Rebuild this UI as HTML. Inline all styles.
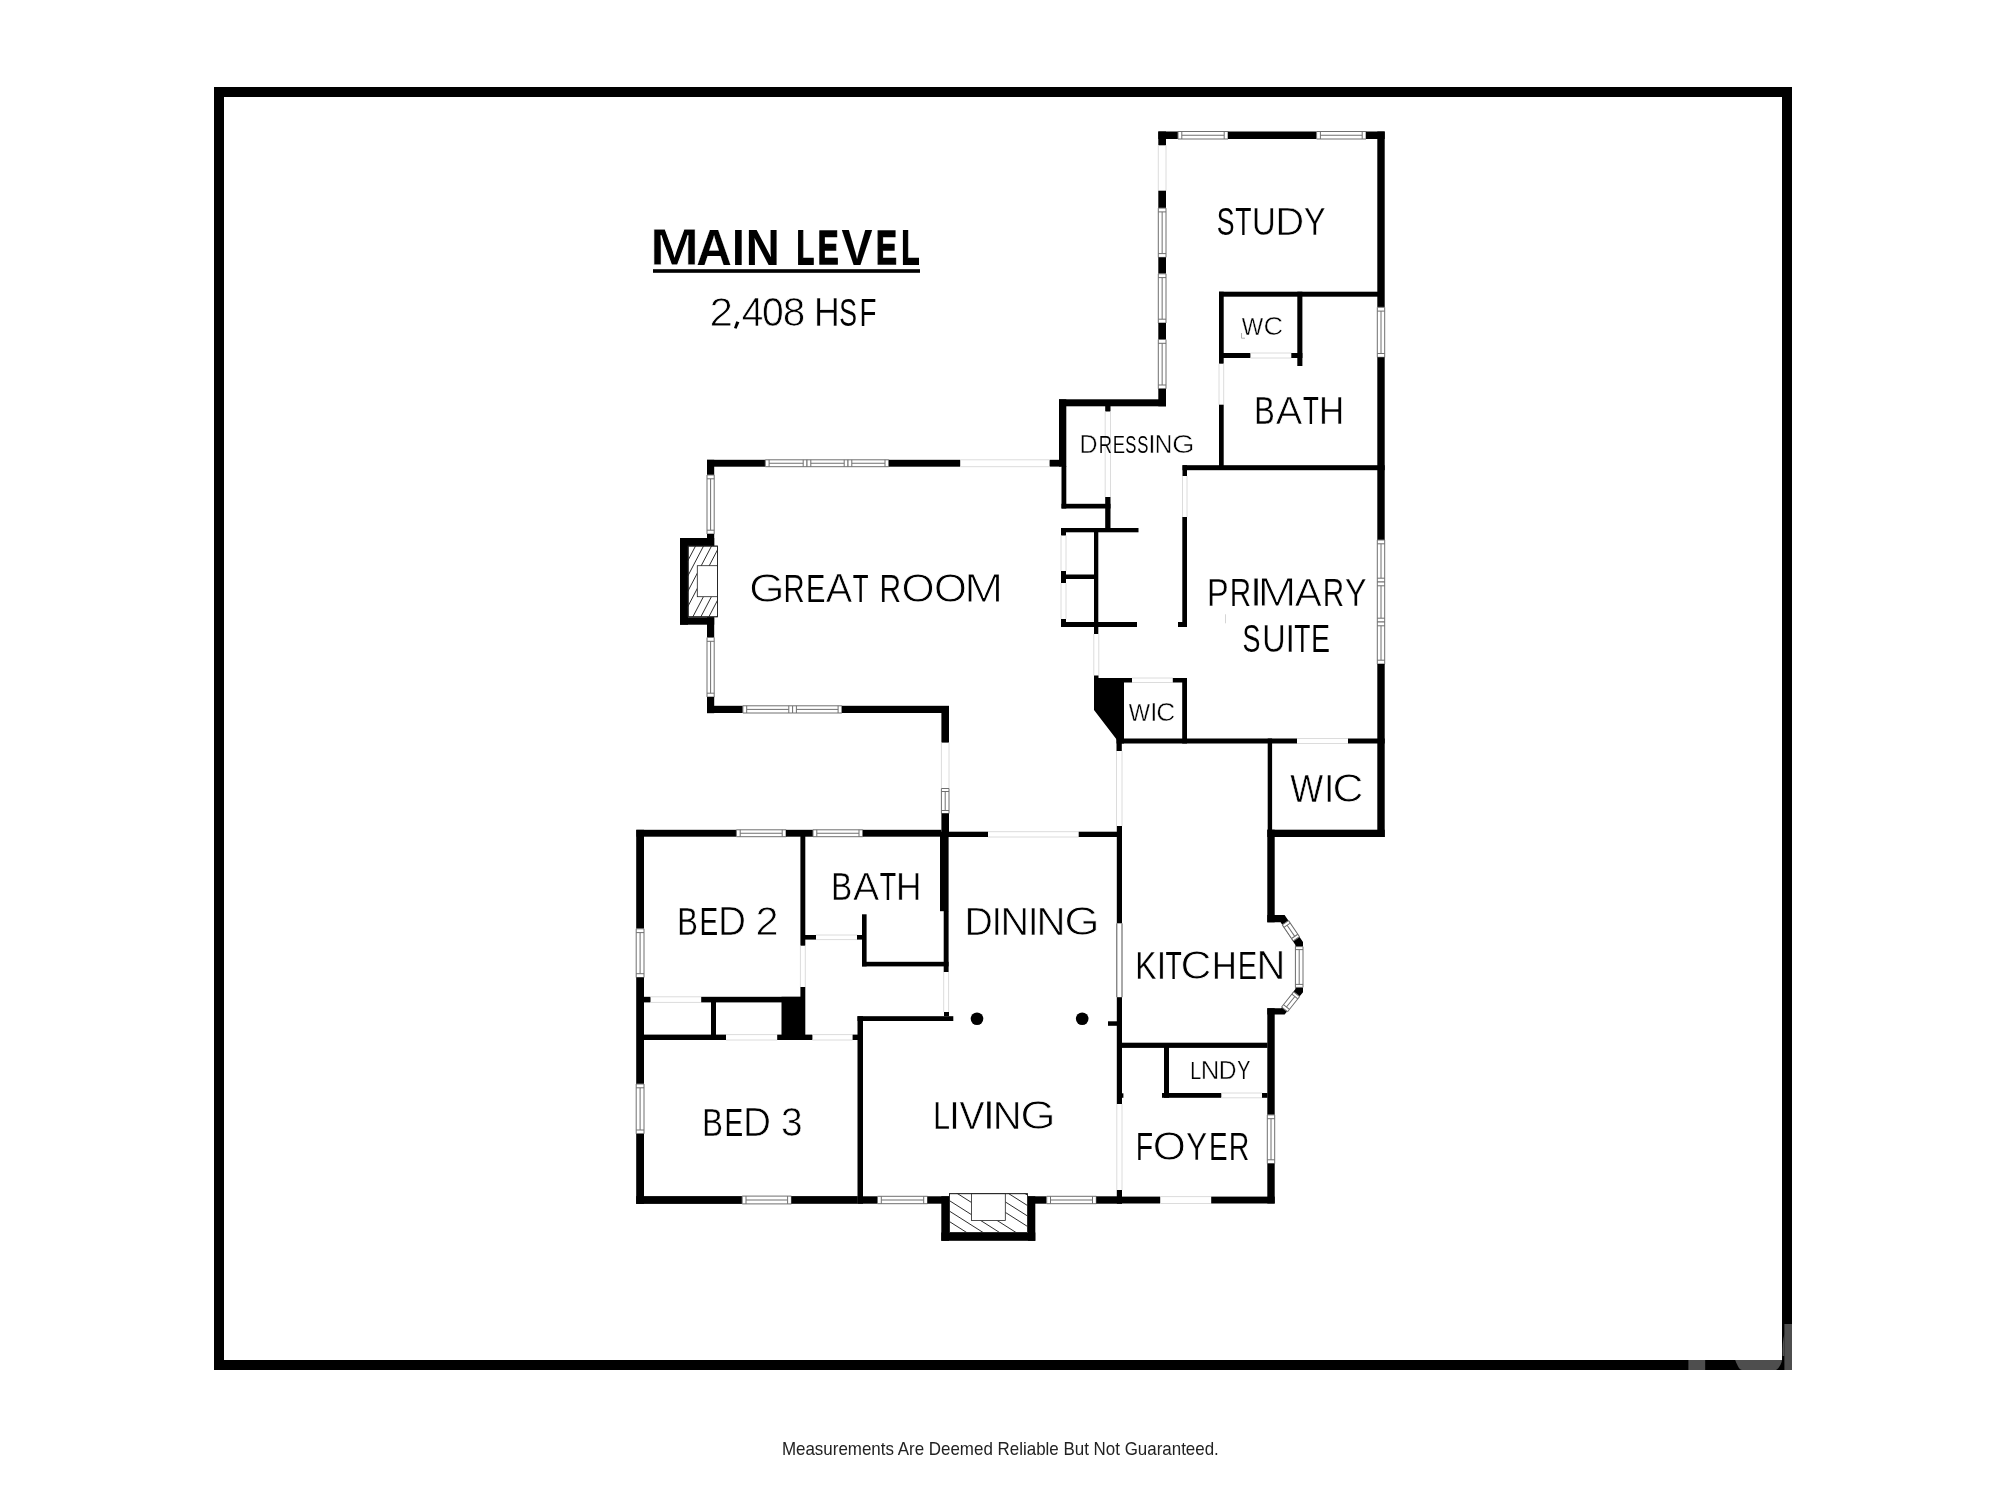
<!DOCTYPE html>
<html><head><meta charset="utf-8"><title>Main Level Floor Plan</title>
<style>
html,body{margin:0;padding:0;background:#fff;}
body{width:2000px;height:1500px;overflow:hidden;}
svg{display:block;will-change:transform;}
text{font-family:"Liberation Sans",sans-serif;}
</style></head>
<body>
<svg width="2000" height="1500" viewBox="0 0 2000 1500">
<rect x="0" y="0" width="2000" height="1500" fill="#fff"/>
<rect x="214.00" y="87.00" width="1578.00" height="10.00" fill="#000"/>
<rect x="214.00" y="1360.00" width="1578.00" height="10.00" fill="#000"/>
<rect x="214.00" y="87.00" width="10.00" height="1283.00" fill="#000"/>
<rect x="1782.00" y="87.00" width="10.00" height="1283.00" fill="#000"/>
<rect x="1688.40" y="1360.00" width="16.80" height="10.00" fill="#4e4e4e"/>
<path d="M1735.2,1360 C1737.5,1366 1739.5,1370 1742,1370 L1776,1370 C1779,1368 1781.5,1364 1782,1360 Z" fill="#4e4e4e"/>
<rect x="1784.40" y="1324.00" width="7.60" height="46.00" fill="#4e4e4e"/>
<path d="M1784.4,1334 C1782.8,1340 1782.2,1348 1782.6,1356 L1784.4,1356 Z" fill="#4e4e4e"/>
<path d="M1241.5,333 V338.2 H1245" stroke="#a8a8a8" stroke-width="0.9" fill="none"/>
<path d="M1225.5,614.3 V623.3" stroke="#d0d0d0" stroke-width="0.9" fill="none"/>
<text x="649.708" y="265.34" font-size="51.73" textLength="49.585" lengthAdjust="spacingAndGlyphs" font-weight="bold" fill="#000" stroke="#fff" stroke-width="0.887">M</text>
<text x="696.295" y="264.98" font-size="50.67" textLength="35.581" lengthAdjust="spacingAndGlyphs" font-weight="bold" fill="#000" stroke="#fff" stroke-width="0.160">A</text>
<text x="731.990" y="264.84" font-size="50.27" textLength="12.720" lengthAdjust="spacingAndGlyphs" font-weight="bold" fill="#000" stroke="#000" stroke-width="0.116" stroke-linejoin="miter">I</text>
<text x="745.856" y="264.89" font-size="50.42" textLength="34.012" lengthAdjust="spacingAndGlyphs" font-weight="bold" fill="#000" stroke="#000" stroke-width="0.013" stroke-linejoin="miter">N</text>
<text x="796.664" y="263.95" font-size="47.69" textLength="17.346" lengthAdjust="spacingAndGlyphs" font-weight="bold" fill="#000" stroke="#000" stroke-width="1.892" stroke-linejoin="miter">L</text>
<text x="817.718" y="264.12" font-size="48.17" textLength="20.796" lengthAdjust="spacingAndGlyphs" font-weight="bold" fill="#000" stroke="#000" stroke-width="1.557" stroke-linejoin="miter">E</text>
<text x="841.414" y="264.87" font-size="50.34" textLength="30.973" lengthAdjust="spacingAndGlyphs" font-weight="bold" fill="#000" stroke="#000" stroke-width="0.067" stroke-linejoin="miter">V</text>
<text x="876.101" y="264.13" font-size="48.21" textLength="20.925" lengthAdjust="spacingAndGlyphs" font-weight="bold" fill="#000" stroke="#000" stroke-width="1.535" stroke-linejoin="miter">E</text>
<text x="901.490" y="264.01" font-size="47.84" textLength="17.863" lengthAdjust="spacingAndGlyphs" font-weight="bold" fill="#000" stroke="#000" stroke-width="1.788" stroke-linejoin="miter">L</text>
<rect x="653.00" y="269.20" width="267.00" height="3.60" fill="#000"/>
<path d="M736.3,321.3 L739.4,322.3 L736.6,328.8 L734.0,328.1 Z" fill="#000"/>
<text x="709.458" y="326.30" font-size="40.11" textLength="23.485" lengthAdjust="spacingAndGlyphs" fill="#000" stroke="#fff" stroke-width="0.795">2</text>
<text x="741.791" y="326.23" font-size="39.91" textLength="21.564" lengthAdjust="spacingAndGlyphs" fill="#000" stroke="#fff" stroke-width="0.657">4</text>
<text x="762.050" y="326.23" font-size="39.92" textLength="21.701" lengthAdjust="spacingAndGlyphs" fill="#000" stroke="#fff" stroke-width="0.667">0</text>
<text x="782.625" y="326.26" font-size="40.01" textLength="22.500" lengthAdjust="spacingAndGlyphs" fill="#000" stroke="#fff" stroke-width="0.726">8</text>
<text x="814.080" y="326.16" font-size="39.72" textLength="25.823" lengthAdjust="spacingAndGlyphs" fill="#000" stroke="#fff" stroke-width="0.526">H</text>
<text x="839.276" y="325.93" font-size="39.03" textLength="17.711" lengthAdjust="spacingAndGlyphs" fill="#000" stroke="#fff" stroke-width="0.053">S</text>
<text x="859.425" y="325.96" font-size="39.14" textLength="16.983" lengthAdjust="spacingAndGlyphs" fill="#000" stroke="#fff" stroke-width="0.125">F</text>
<rect x="1158.30" y="131.50" width="19.70" height="7.50" fill="#000"/>
<rect x="1178.00" y="131.50" width="50.00" height="7.50" fill="#fff"/>
<g stroke="#707070" stroke-width="1.00" fill="none">
<path d="M1178.00 131.50H1228.00M1178.00 139.00H1228.00"/>
<path d="M1181.80 135.25H1224.20"/>
<path d="M1181.80 131.50V139.00M1224.20 131.50V139.00"/>
<path d="M1178.00 131.50V139.00M1228.00 131.50V139.00"/>
</g>
<rect x="1228.00" y="131.50" width="88.60" height="7.50" fill="#000"/>
<rect x="1316.60" y="131.50" width="49.40" height="7.50" fill="#fff"/>
<g stroke="#707070" stroke-width="1.00" fill="none">
<path d="M1316.60 131.50H1366.00M1316.60 139.00H1366.00"/>
<path d="M1320.40 135.25H1362.20"/>
<path d="M1320.40 131.50V139.00M1362.20 131.50V139.00"/>
<path d="M1316.60 131.50V139.00M1366.00 131.50V139.00"/>
</g>
<rect x="1366.00" y="131.50" width="18.70" height="7.50" fill="#000"/>
<rect x="1377.30" y="131.50" width="7.40" height="175.80" fill="#000"/>
<rect x="1377.30" y="307.30" width="7.40" height="50.00" fill="#fff"/>
<g stroke="#707070" stroke-width="1.00" fill="none">
<path d="M1377.30 307.30V357.30M1384.70 307.30V357.30"/>
<path d="M1381.00 311.10V353.50"/>
<path d="M1377.30 311.10H1384.70M1377.30 353.50H1384.70"/>
<path d="M1377.30 307.30H1384.70M1377.30 357.30H1384.70"/>
</g>
<rect x="1377.30" y="357.30" width="7.40" height="182.70" fill="#000"/>
<rect x="1377.30" y="540.00" width="7.40" height="42.00" fill="#fff"/>
<g stroke="#707070" stroke-width="1.00" fill="none">
<path d="M1377.30 540.00V582.00M1384.70 540.00V582.00"/>
<path d="M1381.00 543.80V578.20"/>
<path d="M1377.30 543.80H1384.70M1377.30 578.20H1384.70"/>
<path d="M1377.30 540.00H1384.70M1377.30 582.00H1384.70"/>
</g>
<rect x="1377.30" y="582.00" width="7.40" height="40.00" fill="#fff"/>
<g stroke="#707070" stroke-width="1.00" fill="none">
<path d="M1377.30 582.00V622.00M1384.70 582.00V622.00"/>
<path d="M1381.00 585.80V618.20"/>
<path d="M1377.30 585.80H1384.70M1377.30 618.20H1384.70"/>
<path d="M1377.30 582.00H1384.70M1377.30 622.00H1384.70"/>
</g>
<rect x="1377.30" y="622.00" width="7.40" height="42.00" fill="#fff"/>
<g stroke="#707070" stroke-width="1.00" fill="none">
<path d="M1377.30 622.00V664.00M1384.70 622.00V664.00"/>
<path d="M1381.00 625.80V660.20"/>
<path d="M1377.30 625.80H1384.70M1377.30 660.20H1384.70"/>
<path d="M1377.30 622.00H1384.70M1377.30 664.00H1384.70"/>
</g>
<rect x="1377.30" y="664.00" width="7.40" height="173.00" fill="#000"/>
<rect x="1158.30" y="131.50" width="7.70" height="13.80" fill="#000"/>
<path d="M1158.30 145.30V190.70M1166.00 145.30V190.70" stroke="#dcdcdc" stroke-width="1.00"/>
<rect x="1158.30" y="190.70" width="7.70" height="17.40" fill="#000"/>
<rect x="1158.30" y="208.10" width="7.70" height="49.30" fill="#fff"/>
<g stroke="#707070" stroke-width="1.00" fill="none">
<path d="M1158.30 208.10V257.40M1166.00 208.10V257.40"/>
<path d="M1162.15 211.90V253.60"/>
<path d="M1158.30 211.90H1166.00M1158.30 253.60H1166.00"/>
<path d="M1158.30 208.10H1166.00M1158.30 257.40H1166.00"/>
</g>
<rect x="1158.30" y="257.40" width="7.70" height="16.40" fill="#000"/>
<rect x="1158.30" y="273.80" width="7.70" height="49.20" fill="#fff"/>
<g stroke="#707070" stroke-width="1.00" fill="none">
<path d="M1158.30 273.80V323.00M1166.00 273.80V323.00"/>
<path d="M1162.15 277.60V319.20"/>
<path d="M1158.30 277.60H1166.00M1158.30 319.20H1166.00"/>
<path d="M1158.30 273.80H1166.00M1158.30 323.00H1166.00"/>
</g>
<rect x="1158.30" y="323.00" width="7.70" height="16.50" fill="#000"/>
<rect x="1158.30" y="339.50" width="7.70" height="49.30" fill="#fff"/>
<g stroke="#707070" stroke-width="1.00" fill="none">
<path d="M1158.30 339.50V388.80M1166.00 339.50V388.80"/>
<path d="M1162.15 343.30V385.00"/>
<path d="M1158.30 343.30H1166.00M1158.30 385.00H1166.00"/>
<path d="M1158.30 339.50H1166.00M1158.30 388.80H1166.00"/>
</g>
<rect x="1158.30" y="388.80" width="7.70" height="17.50" fill="#000"/>
<text x="1216.665" y="235.04" font-size="38.77" textLength="17.783" lengthAdjust="spacingAndGlyphs" fill="#000" stroke="#fff" stroke-width="0.071">S</text>
<text x="1235.279" y="235.03" font-size="38.76" textLength="16.255" lengthAdjust="spacingAndGlyphs" fill="#000" stroke="#fff" stroke-width="0.068">T</text>
<text x="1252.103" y="235.20" font-size="39.24" textLength="23.694" lengthAdjust="spacingAndGlyphs" fill="#000" stroke="#fff" stroke-width="0.397">U</text>
<text x="1275.353" y="235.36" font-size="39.70" textLength="28.925" lengthAdjust="spacingAndGlyphs" fill="#000" stroke="#fff" stroke-width="0.717">D</text>
<text x="1304.039" y="235.19" font-size="39.20" textLength="21.523" lengthAdjust="spacingAndGlyphs" fill="#000" stroke="#fff" stroke-width="0.370">Y</text>
<rect x="1219.00" y="291.70" width="159.00" height="5.00" fill="#000"/>
<rect x="1219.00" y="291.70" width="4.70" height="72.00" fill="#000"/>
<path d="M1219.00 363.70V404.70M1223.70 363.70V404.70" stroke="#dcdcdc" stroke-width="1.00"/>
<rect x="1219.00" y="404.70" width="4.70" height="65.30" fill="#000"/>
<rect x="1219.00" y="353.00" width="31.40" height="5.00" fill="#000"/>
<path d="M1250.40 353.00H1291.30M1250.40 358.00H1291.30" stroke="#dcdcdc" stroke-width="1.00"/>
<rect x="1291.30" y="353.00" width="11.10" height="5.00" fill="#000"/>
<rect x="1297.30" y="291.70" width="5.10" height="74.30" fill="#000"/>
<rect x="1182.50" y="465.20" width="202.20" height="5.00" fill="#000"/>
<rect x="1182.50" y="465.20" width="4.50" height="10.80" fill="#000"/>
<text x="1241.743" y="334.77" font-size="24.78" textLength="21.393" lengthAdjust="spacingAndGlyphs" fill="#000" stroke="#fff" stroke-width="0.345">W</text>
<text x="1263.581" y="334.86" font-size="25.04" textLength="19.642" lengthAdjust="spacingAndGlyphs" fill="#000" stroke="#fff" stroke-width="0.529">C</text>
<text x="1254.369" y="423.95" font-size="39.09" textLength="20.462" lengthAdjust="spacingAndGlyphs" fill="#000" stroke="#fff" stroke-width="0.290">B</text>
<text x="1275.767" y="424.15" font-size="39.69" textLength="26.566" lengthAdjust="spacingAndGlyphs" fill="#000" stroke="#fff" stroke-width="0.708">A</text>
<text x="1303.012" y="423.81" font-size="38.70" textLength="15.789" lengthAdjust="spacingAndGlyphs" fill="#000" stroke="#fff" stroke-width="0.023">T</text>
<text x="1319.030" y="424.05" font-size="39.38" textLength="25.124" lengthAdjust="spacingAndGlyphs" fill="#000" stroke="#fff" stroke-width="0.490">H</text>
<rect x="1059.00" y="399.30" width="107.00" height="7.00" fill="#000"/>
<rect x="1059.00" y="399.30" width="7.30" height="67.30" fill="#000"/>
<rect x="1061.50" y="466.00" width="4.80" height="42.50" fill="#000"/>
<rect x="1049.60" y="459.80" width="11.90" height="6.80" fill="#000"/>
<rect x="1061.50" y="503.80" width="49.00" height="4.70" fill="#000"/>
<rect x="1105.20" y="406.00" width="5.30" height="5.50" fill="#000"/>
<path d="M1105.20 411.50V497.00M1110.50 411.50V497.00" stroke="#dcdcdc" stroke-width="1.00"/>
<rect x="1105.20" y="497.00" width="5.30" height="35.00" fill="#000"/>
<text x="1079.623" y="453.02" font-size="25.06" textLength="18.098" lengthAdjust="spacingAndGlyphs" fill="#000" stroke="#fff" stroke-width="0.443">D</text>
<text x="1098.646" y="452.86" font-size="24.61" textLength="13.253" lengthAdjust="spacingAndGlyphs" fill="#000" stroke="#fff" stroke-width="0.129">R</text>
<text x="1112.736" y="452.87" font-size="24.61" textLength="12.308" lengthAdjust="spacingAndGlyphs" fill="#000" stroke="#fff" stroke-width="0.135">E</text>
<text x="1125.228" y="452.82" font-size="24.47" textLength="11.153" lengthAdjust="spacingAndGlyphs" fill="#000" stroke="#fff" stroke-width="0.038">S</text>
<text x="1137.228" y="452.82" font-size="24.47" textLength="11.153" lengthAdjust="spacingAndGlyphs" fill="#000" stroke="#fff" stroke-width="0.038">S</text>
<text x="1147.834" y="453.09" font-size="25.26" textLength="8.233" lengthAdjust="spacingAndGlyphs" fill="#000" stroke="#fff" stroke-width="0.581">I</text>
<text x="1154.701" y="453.01" font-size="25.02" textLength="17.586" lengthAdjust="spacingAndGlyphs" fill="#000" stroke="#fff" stroke-width="0.414">N</text>
<text x="1171.896" y="453.10" font-size="25.28" textLength="22.618" lengthAdjust="spacingAndGlyphs" fill="#000" stroke="#fff" stroke-width="0.594">G</text>
<rect x="1061.00" y="528.00" width="77.50" height="4.30" fill="#000"/>
<rect x="1061.00" y="528.00" width="5.00" height="7.50" fill="#000"/>
<path d="M1061.00 535.50V571.00M1066.00 535.50V571.00" stroke="#dcdcdc" stroke-width="1.00"/>
<rect x="1061.00" y="571.00" width="5.00" height="12.00" fill="#000"/>
<rect x="1061.00" y="574.50" width="37.00" height="4.50" fill="#000"/>
<path d="M1061.00 583.00V619.00M1066.00 583.00V619.00" stroke="#dcdcdc" stroke-width="1.00"/>
<rect x="1061.00" y="619.00" width="5.00" height="8.00" fill="#000"/>
<rect x="1061.00" y="622.00" width="76.00" height="5.00" fill="#000"/>
<rect x="1094.00" y="528.00" width="4.30" height="106.00" fill="#000"/>
<path d="M1093.80 634.00V675.50M1098.80 634.00V675.50" stroke="#dcdcdc" stroke-width="1.00"/>
<path d="M1182.50 476.00V517.00M1187.00 476.00V517.00" stroke="#dcdcdc" stroke-width="1.00"/>
<rect x="1182.30" y="517.00" width="4.70" height="110.00" fill="#000"/>
<rect x="1178.00" y="622.00" width="9.00" height="5.00" fill="#000"/>
<text x="1207.068" y="606.19" font-size="39.08" textLength="21.710" lengthAdjust="spacingAndGlyphs" fill="#000" stroke="#fff" stroke-width="0.389">P</text>
<text x="1229.680" y="606.12" font-size="38.87" textLength="21.385" lengthAdjust="spacingAndGlyphs" fill="#000" stroke="#fff" stroke-width="0.240">R</text>
<text x="1249.176" y="606.49" font-size="39.96" textLength="13.647" lengthAdjust="spacingAndGlyphs" fill="#000" stroke="#fff" stroke-width="0.989">I</text>
<text x="1257.587" y="606.49" font-size="39.93" textLength="39.025" lengthAdjust="spacingAndGlyphs" fill="#000" stroke="#fff" stroke-width="0.971">M</text>
<text x="1294.644" y="606.37" font-size="39.59" textLength="27.013" lengthAdjust="spacingAndGlyphs" fill="#000" stroke="#fff" stroke-width="0.738">A</text>
<text x="1322.680" y="606.12" font-size="38.87" textLength="21.385" lengthAdjust="spacingAndGlyphs" fill="#000" stroke="#fff" stroke-width="0.240">R</text>
<text x="1345.036" y="606.19" font-size="39.06" textLength="21.529" lengthAdjust="spacingAndGlyphs" fill="#000" stroke="#fff" stroke-width="0.375">Y</text>
<text x="1242.558" y="651.83" font-size="39.06" textLength="17.898" lengthAdjust="spacingAndGlyphs" fill="#000" stroke="#fff" stroke-width="0.070">S</text>
<text x="1262.249" y="651.98" font-size="39.49" textLength="23.402" lengthAdjust="spacingAndGlyphs" fill="#000" stroke="#fff" stroke-width="0.368">U</text>
<text x="1285.337" y="652.06" font-size="39.71" textLength="10.027" lengthAdjust="spacingAndGlyphs" fill="#000" stroke="#fff" stroke-width="0.518">I</text>
<text x="1294.292" y="651.82" font-size="39.02" textLength="16.129" lengthAdjust="spacingAndGlyphs" fill="#000" stroke="#fff" stroke-width="0.045">T</text>
<text x="1310.987" y="651.89" font-size="39.20" textLength="19.106" lengthAdjust="spacingAndGlyphs" fill="#000" stroke="#fff" stroke-width="0.172">E</text>
<path d="M1094,675.5 L1098.5,675.5 L1098.5,678 L1124,678 L1124,743.5 L1117,743.5 L1117,740 L1094,710 Z" fill="#000"/>
<rect x="1098.50" y="678.00" width="33.50" height="4.50" fill="#000"/>
<path d="M1132.00 678.00H1172.80M1132.00 682.50H1172.80" stroke="#dcdcdc" stroke-width="1.00"/>
<rect x="1172.80" y="678.00" width="14.20" height="4.50" fill="#000"/>
<rect x="1182.20" y="678.00" width="4.80" height="65.50" fill="#000"/>
<rect x="1116.50" y="738.50" width="180.50" height="5.00" fill="#000"/>
<path d="M1297.00 738.50H1348.00M1297.00 743.50H1348.00" stroke="#dcdcdc" stroke-width="1.00"/>
<rect x="1348.00" y="738.50" width="36.70" height="5.00" fill="#000"/>
<rect x="1116.50" y="738.50" width="5.30" height="12.50" fill="#000"/>
<path d="M1116.50 751.00V826.00M1122.00 751.00V826.00" stroke="#dcdcdc" stroke-width="1.00"/>
<text x="1128.746" y="720.87" font-size="24.77" textLength="21.286" lengthAdjust="spacingAndGlyphs" fill="#000" stroke="#fff" stroke-width="0.340">W</text>
<text x="1150.127" y="720.95" font-size="25.00" textLength="7.547" lengthAdjust="spacingAndGlyphs" fill="#000" stroke="#fff" stroke-width="0.501">I</text>
<text x="1156.309" y="720.95" font-size="24.99" textLength="18.949" lengthAdjust="spacingAndGlyphs" fill="#000" stroke="#fff" stroke-width="0.493">C</text>
<rect x="1267.70" y="738.50" width="4.40" height="91.50" fill="#000"/>
<rect x="1267.30" y="829.70" width="117.40" height="7.30" fill="#000"/>
<text x="1290.225" y="801.85" font-size="39.24" textLength="32.915" lengthAdjust="spacingAndGlyphs" fill="#000" stroke="#fff" stroke-width="0.498">W</text>
<text x="1323.711" y="801.92" font-size="39.45" textLength="10.778" lengthAdjust="spacingAndGlyphs" fill="#000" stroke="#fff" stroke-width="0.638">I</text>
<text x="1332.583" y="802.01" font-size="39.72" textLength="30.890" lengthAdjust="spacingAndGlyphs" fill="#000" stroke="#fff" stroke-width="0.825">C</text>
<rect x="1116.80" y="826.00" width="5.20" height="97.30" fill="#000"/>
<path d="M1116.80 923.30V997.20M1122.00 923.30V997.20" stroke="#555555" stroke-width="1.00"/>
<rect x="1116.80" y="997.20" width="5.20" height="106.80" fill="#000"/>
<path d="M1116.80 1104.00V1190.00M1122.00 1104.00V1190.00" stroke="#dcdcdc" stroke-width="1.00"/>
<rect x="1116.80" y="1190.00" width="5.20" height="13.50" fill="#000"/>
<rect x="1108.00" y="1021.30" width="9.00" height="4.50" fill="#000"/>
<rect x="1267.30" y="829.70" width="7.40" height="92.60" fill="#000"/>
<rect x="1267.30" y="1008.20" width="7.40" height="106.70" fill="#000"/>
<rect x="1267.30" y="1114.90" width="7.40" height="48.70" fill="#fff"/>
<g stroke="#707070" stroke-width="1.00" fill="none">
<path d="M1267.30 1114.90V1163.60M1274.70 1114.90V1163.60"/>
<path d="M1271.00 1118.70V1159.80"/>
<path d="M1267.30 1118.70H1274.70M1267.30 1159.80H1274.70"/>
<path d="M1267.30 1114.90H1274.70M1267.30 1163.60H1274.70"/>
</g>
<rect x="1267.30" y="1163.60" width="7.40" height="39.90" fill="#000"/>
<path d="M1267.3,915 L1284.6,915 L1303,942 L1303,992.2 L1284.6,1014.6 L1267.3,1014.6 L1267.3,1008.2 L1281.4,1008.2 L1295.4,989 L1295.4,945 L1280.6,922.3 L1267.3,922.3 Z" fill="#000"/>
<g transform="translate(1282.60 918.60) rotate(55.771)">
<rect x="5.00" y="-3.80" width="19.50" height="7.60" fill="#fff"/>
<g stroke="#707070" stroke-width="1.00" fill="none">
<path d="M5.00 -3.80H24.50M5.00 3.80H24.50"/>
<path d="M8.00 0.00H21.50"/>
<path d="M8.00 -3.80V3.80M21.50 -3.80V3.80"/>
<path d="M5.00 -3.80V3.80M24.50 -3.80V3.80"/>
</g>
</g>
<rect x="1295.40" y="946.60" width="7.60" height="40.80" fill="#fff"/>
<g stroke="#707070" stroke-width="1.00" fill="none">
<path d="M1295.40 946.60V987.40M1303.00 946.60V987.40"/>
<path d="M1299.20 949.60V984.40"/>
<path d="M1295.40 949.60H1303.00M1295.40 984.40H1303.00"/>
<path d="M1295.40 946.60H1303.00M1295.40 987.40H1303.00"/>
</g>
<g transform="translate(1299.20 991.00) rotate(128.454)">
<rect x="4.00" y="-3.80" width="19.50" height="7.60" fill="#fff"/>
<g stroke="#707070" stroke-width="1.00" fill="none">
<path d="M4.00 -3.80H23.50M4.00 3.80H23.50"/>
<path d="M7.00 0.00H20.50"/>
<path d="M7.00 -3.80V3.80M20.50 -3.80V3.80"/>
<path d="M4.00 -3.80V3.80M23.50 -3.80V3.80"/>
</g>
</g>
<rect x="1117.00" y="1042.70" width="150.50" height="5.20" fill="#000"/>
<text x="1135.246" y="978.97" font-size="39.31" textLength="21.252" lengthAdjust="spacingAndGlyphs" fill="#000" stroke="#fff" stroke-width="0.346">K</text>
<text x="1156.684" y="979.01" font-size="39.43" textLength="9.433" lengthAdjust="spacingAndGlyphs" fill="#000" stroke="#fff" stroke-width="0.429">I</text>
<text x="1165.381" y="978.83" font-size="38.90" textLength="16.250" lengthAdjust="spacingAndGlyphs" fill="#000" stroke="#fff" stroke-width="0.062">T</text>
<text x="1180.592" y="979.21" font-size="40.00" textLength="30.874" lengthAdjust="spacingAndGlyphs" fill="#000" stroke="#fff" stroke-width="0.819">C</text>
<text x="1211.976" y="979.03" font-size="39.49" textLength="24.831" lengthAdjust="spacingAndGlyphs" fill="#000" stroke="#fff" stroke-width="0.467">H</text>
<text x="1237.742" y="978.90" font-size="39.10" textLength="19.380" lengthAdjust="spacingAndGlyphs" fill="#000" stroke="#fff" stroke-width="0.200">E</text>
<text x="1256.568" y="979.15" font-size="39.84" textLength="28.844" lengthAdjust="spacingAndGlyphs" fill="#000" stroke="#fff" stroke-width="0.709">N</text>
<rect x="1164.00" y="1047.00" width="5.00" height="50.80" fill="#000"/>
<rect x="1162.00" y="1093.00" width="59.30" height="4.80" fill="#000"/>
<path d="M1221.30 1093.00H1262.00M1221.30 1097.80H1262.00" stroke="#dcdcdc" stroke-width="1.00"/>
<rect x="1262.00" y="1093.00" width="5.50" height="4.80" fill="#000"/>
<rect x="1117.00" y="1093.30" width="6.40" height="4.50" fill="#000"/>
<rect x="1117.00" y="1196.60" width="43.20" height="6.90" fill="#000"/>
<path d="M1160.20 1196.60H1211.20M1160.20 1203.50H1211.20" stroke="#dcdcdc" stroke-width="1.00"/>
<rect x="1211.20" y="1196.60" width="63.50" height="6.90" fill="#000"/>
<text x="1190.315" y="1078.90" font-size="24.84" textLength="10.912" lengthAdjust="spacingAndGlyphs" fill="#000" stroke="#fff" stroke-width="0.191">L</text>
<text x="1200.651" y="1079.03" font-size="25.24" textLength="18.586" lengthAdjust="spacingAndGlyphs" fill="#000" stroke="#fff" stroke-width="0.467">N</text>
<text x="1218.768" y="1079.01" font-size="25.18" textLength="17.820" lengthAdjust="spacingAndGlyphs" fill="#000" stroke="#fff" stroke-width="0.424">D</text>
<text x="1237.291" y="1078.90" font-size="24.85" textLength="13.117" lengthAdjust="spacingAndGlyphs" fill="#000" stroke="#fff" stroke-width="0.193">Y</text>
<text x="1135.702" y="1159.88" font-size="39.05" textLength="17.400" lengthAdjust="spacingAndGlyphs" fill="#000" stroke="#fff" stroke-width="0.168">F</text>
<text x="1152.751" y="1160.21" font-size="39.99" textLength="33.119" lengthAdjust="spacingAndGlyphs" fill="#000" stroke="#fff" stroke-width="0.812">O</text>
<text x="1186.190" y="1159.96" font-size="39.26" textLength="20.821" lengthAdjust="spacingAndGlyphs" fill="#000" stroke="#fff" stroke-width="0.313">Y</text>
<text x="1208.968" y="1159.87" font-size="39.00" textLength="18.576" lengthAdjust="spacingAndGlyphs" fill="#000" stroke="#fff" stroke-width="0.133">E</text>
<text x="1228.700" y="1159.88" font-size="39.06" textLength="20.584" lengthAdjust="spacingAndGlyphs" fill="#000" stroke="#fff" stroke-width="0.169">R</text>
<rect x="857.40" y="1196.30" width="20.10" height="7.40" fill="#000"/>
<rect x="877.50" y="1196.30" width="50.00" height="7.40" fill="#fff"/>
<g stroke="#707070" stroke-width="1.00" fill="none">
<path d="M877.50 1196.30H927.50M877.50 1203.70H927.50"/>
<path d="M881.30 1200.00H923.70"/>
<path d="M881.30 1196.30V1203.70M923.70 1196.30V1203.70"/>
<path d="M877.50 1196.30V1203.70M927.50 1196.30V1203.70"/>
</g>
<rect x="927.50" y="1196.30" width="21.50" height="7.40" fill="#000"/>
<rect x="1028.00" y="1196.30" width="18.70" height="7.40" fill="#000"/>
<rect x="1046.70" y="1196.30" width="49.60" height="7.40" fill="#fff"/>
<g stroke="#707070" stroke-width="1.00" fill="none">
<path d="M1046.70 1196.30H1096.30M1046.70 1203.70H1096.30"/>
<path d="M1050.50 1200.00H1092.50"/>
<path d="M1050.50 1196.30V1203.70M1092.50 1196.30V1203.70"/>
<path d="M1046.70 1196.30V1203.70M1096.30 1196.30V1203.70"/>
</g>
<rect x="1096.30" y="1196.30" width="25.70" height="7.40" fill="#000"/>
<rect x="941.30" y="1196.30" width="7.70" height="44.50" fill="#000"/>
<rect x="1028.00" y="1196.30" width="7.30" height="44.50" fill="#000"/>
<rect x="941.30" y="1232.50" width="94.00" height="8.30" fill="#000"/>
<rect x="949.4" y="1193.7" width="78.2" height="38.8" fill="#fff" stroke="#222" stroke-width="0.8"/>
<clipPath id="fp1"><path d="M949,1194.3 L971.3,1208.4 V1220.5 H1005.5 L1025.5,1232.9 H949 Z"/></clipPath>
<clipPath id="fp1b"><path d="M1005.5,1193.3 H1027.6 V1232.9 H1025.5 L1005.5,1220.5 Z"/></clipPath>
<clipPath id="fp1c"><path d="M949,1193.3 H971.3 V1208.4 L949,1194.3 Z"/></clipPath>
<g clip-path="url(#fp1)" stroke="#222" stroke-width="0.95">
<line x1="748.45" y1="1188.00" x2="827.19" y2="1238.00"/>
<line x1="764.91" y1="1188.00" x2="843.65" y2="1238.00"/>
<line x1="781.37" y1="1188.00" x2="860.11" y2="1238.00"/>
<line x1="797.83" y1="1188.00" x2="876.57" y2="1238.00"/>
<line x1="814.29" y1="1188.00" x2="893.03" y2="1238.00"/>
<line x1="830.75" y1="1188.00" x2="909.49" y2="1238.00"/>
<line x1="847.21" y1="1188.00" x2="925.95" y2="1238.00"/>
<line x1="863.67" y1="1188.00" x2="942.41" y2="1238.00"/>
<line x1="880.13" y1="1188.00" x2="958.87" y2="1238.00"/>
<line x1="896.59" y1="1188.00" x2="975.33" y2="1238.00"/>
<line x1="913.05" y1="1188.00" x2="991.79" y2="1238.00"/>
<line x1="929.51" y1="1188.00" x2="1008.25" y2="1238.00"/>
<line x1="945.97" y1="1188.00" x2="1024.71" y2="1238.00"/>
<line x1="962.43" y1="1188.00" x2="1041.17" y2="1238.00"/>
<line x1="978.89" y1="1188.00" x2="1057.63" y2="1238.00"/>
<line x1="995.35" y1="1188.00" x2="1074.09" y2="1238.00"/>
<line x1="1011.81" y1="1188.00" x2="1090.55" y2="1238.00"/>
<line x1="1028.27" y1="1188.00" x2="1107.01" y2="1238.00"/>
</g>
<g clip-path="url(#fp1b)" stroke="#222" stroke-width="0.95">
<line x1="752.95" y1="1188.00" x2="831.69" y2="1238.00"/>
<line x1="769.41" y1="1188.00" x2="848.15" y2="1238.00"/>
<line x1="785.87" y1="1188.00" x2="864.61" y2="1238.00"/>
<line x1="802.33" y1="1188.00" x2="881.07" y2="1238.00"/>
<line x1="818.79" y1="1188.00" x2="897.53" y2="1238.00"/>
<line x1="835.25" y1="1188.00" x2="913.99" y2="1238.00"/>
<line x1="851.71" y1="1188.00" x2="930.45" y2="1238.00"/>
<line x1="868.17" y1="1188.00" x2="946.91" y2="1238.00"/>
<line x1="884.63" y1="1188.00" x2="963.37" y2="1238.00"/>
<line x1="901.09" y1="1188.00" x2="979.83" y2="1238.00"/>
<line x1="917.55" y1="1188.00" x2="996.29" y2="1238.00"/>
<line x1="934.01" y1="1188.00" x2="1012.75" y2="1238.00"/>
<line x1="950.47" y1="1188.00" x2="1029.21" y2="1238.00"/>
<line x1="966.93" y1="1188.00" x2="1045.67" y2="1238.00"/>
<line x1="983.39" y1="1188.00" x2="1062.13" y2="1238.00"/>
<line x1="999.85" y1="1188.00" x2="1078.59" y2="1238.00"/>
<line x1="1016.31" y1="1188.00" x2="1095.05" y2="1238.00"/>
<line x1="1032.77" y1="1188.00" x2="1111.51" y2="1238.00"/>
</g>
<g clip-path="url(#fp1c)" stroke="#222" stroke-width="0.95">
<line x1="751.15" y1="1188.00" x2="829.89" y2="1238.00"/>
<line x1="767.61" y1="1188.00" x2="846.35" y2="1238.00"/>
<line x1="784.07" y1="1188.00" x2="862.81" y2="1238.00"/>
<line x1="800.53" y1="1188.00" x2="879.27" y2="1238.00"/>
<line x1="816.99" y1="1188.00" x2="895.73" y2="1238.00"/>
<line x1="833.45" y1="1188.00" x2="912.19" y2="1238.00"/>
<line x1="849.91" y1="1188.00" x2="928.65" y2="1238.00"/>
<line x1="866.37" y1="1188.00" x2="945.11" y2="1238.00"/>
<line x1="882.83" y1="1188.00" x2="961.57" y2="1238.00"/>
<line x1="899.29" y1="1188.00" x2="978.03" y2="1238.00"/>
<line x1="915.75" y1="1188.00" x2="994.49" y2="1238.00"/>
<line x1="932.21" y1="1188.00" x2="1010.95" y2="1238.00"/>
<line x1="948.67" y1="1188.00" x2="1027.41" y2="1238.00"/>
<line x1="965.13" y1="1188.00" x2="1043.87" y2="1238.00"/>
<line x1="981.59" y1="1188.00" x2="1060.33" y2="1238.00"/>
<line x1="998.05" y1="1188.00" x2="1076.79" y2="1238.00"/>
<line x1="1014.51" y1="1188.00" x2="1093.25" y2="1238.00"/>
<line x1="1030.97" y1="1188.00" x2="1109.71" y2="1238.00"/>
</g>
<rect x="971.5" y="1193.7" width="33.8" height="26.8" fill="#fff" stroke="#222" stroke-width="0.8"/>
<rect x="949.4" y="1193.7" width="78.2" height="38.8" fill="none" stroke="#222" stroke-width="0.8"/>
<rect x="857.50" y="1016.20" width="5.50" height="187.50" fill="#000"/>
<rect x="857.50" y="1016.20" width="95.80" height="4.80" fill="#000"/>
<rect x="944.00" y="1012.00" width="5.00" height="4.20" fill="#000"/>
<circle cx="977.0" cy="1018.7" r="6.3" fill="#000"/>
<circle cx="1082.2" cy="1018.7" r="6.3" fill="#000"/>
<text x="933.323" y="1128.93" font-size="39.05" textLength="16.781" lengthAdjust="spacingAndGlyphs" fill="#000" stroke="#fff" stroke-width="0.264">L</text>
<text x="948.740" y="1129.16" font-size="39.71" textLength="11.421" lengthAdjust="spacingAndGlyphs" fill="#000" stroke="#fff" stroke-width="0.722">I</text>
<text x="959.451" y="1129.10" font-size="39.54" textLength="24.898" lengthAdjust="spacingAndGlyphs" fill="#000" stroke="#fff" stroke-width="0.603">V</text>
<text x="981.640" y="1129.35" font-size="40.27" textLength="14.769" lengthAdjust="spacingAndGlyphs" fill="#000" stroke="#fff" stroke-width="1.104">I</text>
<text x="992.664" y="1129.16" font-size="39.70" textLength="28.852" lengthAdjust="spacingAndGlyphs" fill="#000" stroke="#fff" stroke-width="0.712">N</text>
<text x="1020.181" y="1129.26" font-size="40.01" textLength="35.450" lengthAdjust="spacingAndGlyphs" fill="#000" stroke="#fff" stroke-width="0.924">G</text>
<rect x="940.00" y="831.70" width="48.00" height="5.30" fill="#000"/>
<path d="M988.00 831.70H1078.70M988.00 837.00H1078.70" stroke="#dcdcdc" stroke-width="1.00"/>
<rect x="1078.70" y="831.70" width="43.30" height="5.30" fill="#000"/>
<rect x="941.40" y="706.00" width="7.60" height="36.60" fill="#000"/>
<path d="M941.40 742.60V788.50M949.00 742.60V788.50" stroke="#dcdcdc" stroke-width="1.00"/>
<rect x="941.40" y="788.50" width="7.60" height="25.00" fill="#fff"/>
<g stroke="#707070" stroke-width="1.00" fill="none">
<path d="M941.40 788.50V813.50M949.00 788.50V813.50"/>
<path d="M945.20 791.50V810.50"/>
<path d="M941.40 791.50H949.00M941.40 810.50H949.00"/>
<path d="M941.40 788.50H949.00M941.40 813.50H949.00"/>
</g>
<rect x="941.40" y="813.50" width="7.60" height="23.50" fill="#000"/>
<rect x="940.00" y="836.00" width="8.60" height="75.20" fill="#000"/>
<rect x="943.70" y="911.00" width="4.90" height="61.00" fill="#000"/>
<path d="M943.70 972.00V1012.00M948.60 972.00V1012.00" stroke="#dcdcdc" stroke-width="1.00"/>
<text x="964.536" y="935.14" font-size="39.66" textLength="28.385" lengthAdjust="spacingAndGlyphs" fill="#000" stroke="#fff" stroke-width="0.686">D</text>
<text x="992.069" y="935.02" font-size="39.30" textLength="9.462" lengthAdjust="spacingAndGlyphs" fill="#000" stroke="#fff" stroke-width="0.438">I</text>
<text x="1000.508" y="935.15" font-size="39.68" textLength="28.564" lengthAdjust="spacingAndGlyphs" fill="#000" stroke="#fff" stroke-width="0.696">N</text>
<text x="1028.018" y="935.09" font-size="39.51" textLength="10.413" lengthAdjust="spacingAndGlyphs" fill="#000" stroke="#fff" stroke-width="0.583">I</text>
<text x="1036.492" y="935.16" font-size="39.71" textLength="28.996" lengthAdjust="spacingAndGlyphs" fill="#000" stroke="#fff" stroke-width="0.720">N</text>
<text x="1064.281" y="935.26" font-size="40.01" textLength="35.450" lengthAdjust="spacingAndGlyphs" fill="#000" stroke="#fff" stroke-width="0.924">G</text>
<rect x="800.40" y="836.00" width="4.90" height="109.70" fill="#000"/>
<path d="M800.40 945.70V987.00M805.30 945.70V987.00" stroke="#dcdcdc" stroke-width="1.00"/>
<rect x="800.40" y="987.00" width="4.90" height="53.00" fill="#000"/>
<rect x="805.00" y="935.00" width="11.00" height="4.60" fill="#000"/>
<path d="M816.00 935.00H857.40M816.00 939.60H857.40" stroke="#dcdcdc" stroke-width="1.00"/>
<rect x="857.00" y="935.00" width="5.00" height="4.60" fill="#000"/>
<rect x="862.00" y="914.30" width="4.60" height="52.10" fill="#000"/>
<rect x="862.00" y="961.80" width="86.60" height="4.60" fill="#000"/>
<text x="831.126" y="899.86" font-size="39.12" textLength="20.738" lengthAdjust="spacingAndGlyphs" fill="#000" stroke="#fff" stroke-width="0.311">B</text>
<text x="853.082" y="900.04" font-size="39.66" textLength="26.235" lengthAdjust="spacingAndGlyphs" fill="#000" stroke="#fff" stroke-width="0.687">A</text>
<text x="879.771" y="899.74" font-size="38.78" textLength="16.372" lengthAdjust="spacingAndGlyphs" fill="#000" stroke="#fff" stroke-width="0.079">T</text>
<text x="895.987" y="899.95" font-size="39.40" textLength="25.409" lengthAdjust="spacingAndGlyphs" fill="#000" stroke="#fff" stroke-width="0.508">H</text>
<rect x="636.40" y="829.80" width="100.00" height="6.90" fill="#000"/>
<rect x="736.40" y="829.80" width="49.60" height="6.90" fill="#fff"/>
<g stroke="#707070" stroke-width="1.00" fill="none">
<path d="M736.40 829.80H786.00M736.40 836.70H786.00"/>
<path d="M740.20 833.25H782.20"/>
<path d="M740.20 829.80V836.70M782.20 829.80V836.70"/>
<path d="M736.40 829.80V836.70M786.00 829.80V836.70"/>
</g>
<rect x="786.00" y="829.80" width="27.00" height="6.90" fill="#000"/>
<rect x="813.00" y="829.80" width="49.80" height="6.90" fill="#fff"/>
<g stroke="#707070" stroke-width="1.00" fill="none">
<path d="M813.00 829.80H862.80M813.00 836.70H862.80"/>
<path d="M816.80 833.25H859.00"/>
<path d="M816.80 829.80V836.70M859.00 829.80V836.70"/>
<path d="M813.00 829.80V836.70M862.80 829.80V836.70"/>
</g>
<rect x="862.80" y="829.80" width="78.60" height="6.90" fill="#000"/>
<rect x="636.20" y="829.80" width="7.80" height="99.00" fill="#000"/>
<rect x="636.20" y="928.80" width="7.80" height="48.70" fill="#fff"/>
<g stroke="#707070" stroke-width="1.00" fill="none">
<path d="M636.20 928.80V977.50M644.00 928.80V977.50"/>
<path d="M640.10 932.60V973.70"/>
<path d="M636.20 932.60H644.00M636.20 973.70H644.00"/>
<path d="M636.20 928.80H644.00M636.20 977.50H644.00"/>
</g>
<rect x="636.20" y="977.50" width="7.80" height="106.50" fill="#000"/>
<rect x="636.20" y="1084.00" width="7.80" height="49.80" fill="#fff"/>
<g stroke="#707070" stroke-width="1.00" fill="none">
<path d="M636.20 1084.00V1133.80M644.00 1084.00V1133.80"/>
<path d="M640.10 1087.80V1130.00"/>
<path d="M636.20 1087.80H644.00M636.20 1130.00H644.00"/>
<path d="M636.20 1084.00H644.00M636.20 1133.80H644.00"/>
</g>
<rect x="636.20" y="1133.80" width="7.80" height="70.10" fill="#000"/>
<rect x="644.00" y="996.80" width="6.50" height="5.60" fill="#000"/>
<path d="M650.50 996.80H701.20M650.50 1002.40H701.20" stroke="#dcdcdc" stroke-width="1.00"/>
<rect x="701.20" y="996.80" width="103.80" height="5.60" fill="#000"/>
<rect x="711.00" y="1002.00" width="5.00" height="38.00" fill="#000"/>
<rect x="781.50" y="996.80" width="23.50" height="43.20" fill="#000"/>
<rect x="644.00" y="1034.60" width="82.00" height="5.40" fill="#000"/>
<path d="M726.00 1034.60H777.20M726.00 1040.00H777.20" stroke="#dcdcdc" stroke-width="1.00"/>
<rect x="777.20" y="1034.60" width="35.20" height="5.40" fill="#000"/>
<path d="M812.40 1034.60H852.60M812.40 1040.00H852.60" stroke="#dcdcdc" stroke-width="1.00"/>
<rect x="852.60" y="1034.60" width="5.40" height="5.40" fill="#000"/>
<text x="677.354" y="934.95" font-size="39.38" textLength="20.587" lengthAdjust="spacingAndGlyphs" fill="#000" stroke="#fff" stroke-width="0.290">B</text>
<text x="699.450" y="934.87" font-size="39.16" textLength="18.705" lengthAdjust="spacingAndGlyphs" fill="#000" stroke="#fff" stroke-width="0.139">E</text>
<text x="718.106" y="935.13" font-size="39.91" textLength="27.965" lengthAdjust="spacingAndGlyphs" fill="#000" stroke="#fff" stroke-width="0.655">D</text>
<text x="755.418" y="935.18" font-size="40.07" textLength="23.064" lengthAdjust="spacingAndGlyphs" fill="#000" stroke="#fff" stroke-width="0.766">2</text>
<rect x="636.20" y="1196.10" width="106.00" height="7.80" fill="#000"/>
<rect x="742.20" y="1196.10" width="49.20" height="7.80" fill="#fff"/>
<g stroke="#707070" stroke-width="1.00" fill="none">
<path d="M742.20 1196.10H791.40M742.20 1203.90H791.40"/>
<path d="M746.00 1200.00H787.60"/>
<path d="M746.00 1196.10V1203.90M787.60 1196.10V1203.90"/>
<path d="M742.20 1196.10V1203.90M791.40 1196.10V1203.90"/>
</g>
<rect x="791.40" y="1196.10" width="66.10" height="7.70" fill="#000"/>
<text x="702.354" y="1135.95" font-size="39.38" textLength="20.587" lengthAdjust="spacingAndGlyphs" fill="#000" stroke="#fff" stroke-width="0.290">B</text>
<text x="724.450" y="1135.87" font-size="39.16" textLength="18.705" lengthAdjust="spacingAndGlyphs" fill="#000" stroke="#fff" stroke-width="0.139">E</text>
<text x="743.106" y="1136.13" font-size="39.91" textLength="27.965" lengthAdjust="spacingAndGlyphs" fill="#000" stroke="#fff" stroke-width="0.655">D</text>
<text x="781.095" y="1136.13" font-size="39.92" textLength="21.637" lengthAdjust="spacingAndGlyphs" fill="#000" stroke="#fff" stroke-width="0.663">3</text>
<rect x="707.00" y="459.80" width="58.30" height="6.90" fill="#000"/>
<rect x="765.30" y="459.80" width="41.70" height="6.90" fill="#fff"/>
<g stroke="#707070" stroke-width="1.00" fill="none">
<path d="M765.30 459.80H807.00M765.30 466.70H807.00"/>
<path d="M769.10 463.25H803.20"/>
<path d="M769.10 459.80V466.70M803.20 459.80V466.70"/>
<path d="M765.30 459.80V466.70M807.00 459.80V466.70"/>
</g>
<rect x="807.00" y="459.80" width="41.00" height="6.90" fill="#fff"/>
<g stroke="#707070" stroke-width="1.00" fill="none">
<path d="M807.00 459.80H848.00M807.00 466.70H848.00"/>
<path d="M810.80 463.25H844.20"/>
<path d="M810.80 459.80V466.70M844.20 459.80V466.70"/>
<path d="M807.00 459.80V466.70M848.00 459.80V466.70"/>
</g>
<rect x="848.00" y="459.80" width="40.80" height="6.90" fill="#fff"/>
<g stroke="#707070" stroke-width="1.00" fill="none">
<path d="M848.00 459.80H888.80M848.00 466.70H888.80"/>
<path d="M851.80 463.25H885.00"/>
<path d="M851.80 459.80V466.70M885.00 459.80V466.70"/>
<path d="M848.00 459.80V466.70M888.80 459.80V466.70"/>
</g>
<rect x="888.80" y="459.80" width="71.40" height="6.90" fill="#000"/>
<path d="M960.20 459.80H1049.60M960.20 466.70H1049.60" stroke="#dcdcdc" stroke-width="1.00"/>
<rect x="707.00" y="459.80" width="7.20" height="15.20" fill="#000"/>
<rect x="707.00" y="475.00" width="7.20" height="59.00" fill="#fff"/>
<g stroke="#707070" stroke-width="1.00" fill="none">
<path d="M707.00 475.00V534.00M714.20 475.00V534.00"/>
<path d="M710.60 478.80V530.20"/>
<path d="M707.00 478.80H714.20M707.00 530.20H714.20"/>
<path d="M707.00 475.00H714.20M707.00 534.00H714.20"/>
</g>
<rect x="707.00" y="534.00" width="7.20" height="12.00" fill="#000"/>
<rect x="680.00" y="538.00" width="34.20" height="8.00" fill="#000"/>
<rect x="680.00" y="538.00" width="8.00" height="86.70" fill="#000"/>
<rect x="680.00" y="617.30" width="34.20" height="7.40" fill="#000"/>
<rect x="688.2" y="546.1" width="29.3" height="70.7" fill="#fff" stroke="#222" stroke-width="0.8"/>
<clipPath id="fp2"><path d="M687.7,545.7 H717.7 V566 H697.3 V598.9 L687.7,617 Z"/></clipPath>
<clipPath id="fp2b"><path d="M687.7,617 L697.3,598.9 V596.7 H717.7 V617 Z"/></clipPath>
<g clip-path="url(#fp2)" stroke="#222" stroke-width="0.95">
<line x1="634.68" y1="540.00" x2="591.75" y2="622.00"/>
<line x1="642.68" y1="540.00" x2="599.75" y2="622.00"/>
<line x1="650.68" y1="540.00" x2="607.75" y2="622.00"/>
<line x1="658.68" y1="540.00" x2="615.75" y2="622.00"/>
<line x1="666.68" y1="540.00" x2="623.75" y2="622.00"/>
<line x1="674.68" y1="540.00" x2="631.75" y2="622.00"/>
<line x1="682.68" y1="540.00" x2="639.75" y2="622.00"/>
<line x1="690.68" y1="540.00" x2="647.75" y2="622.00"/>
<line x1="698.68" y1="540.00" x2="655.75" y2="622.00"/>
<line x1="706.68" y1="540.00" x2="663.75" y2="622.00"/>
<line x1="714.68" y1="540.00" x2="671.75" y2="622.00"/>
<line x1="722.68" y1="540.00" x2="679.75" y2="622.00"/>
<line x1="730.68" y1="540.00" x2="687.75" y2="622.00"/>
<line x1="738.68" y1="540.00" x2="695.75" y2="622.00"/>
<line x1="746.68" y1="540.00" x2="703.75" y2="622.00"/>
<line x1="754.68" y1="540.00" x2="711.75" y2="622.00"/>
<line x1="762.68" y1="540.00" x2="719.75" y2="622.00"/>
<line x1="770.68" y1="540.00" x2="727.75" y2="622.00"/>
</g>
<g clip-path="url(#fp2b)" stroke="#222" stroke-width="0.95">
<line x1="637.08" y1="540.00" x2="594.15" y2="622.00"/>
<line x1="645.08" y1="540.00" x2="602.15" y2="622.00"/>
<line x1="653.08" y1="540.00" x2="610.15" y2="622.00"/>
<line x1="661.08" y1="540.00" x2="618.15" y2="622.00"/>
<line x1="669.08" y1="540.00" x2="626.15" y2="622.00"/>
<line x1="677.08" y1="540.00" x2="634.15" y2="622.00"/>
<line x1="685.08" y1="540.00" x2="642.15" y2="622.00"/>
<line x1="693.08" y1="540.00" x2="650.15" y2="622.00"/>
<line x1="701.08" y1="540.00" x2="658.15" y2="622.00"/>
<line x1="709.08" y1="540.00" x2="666.15" y2="622.00"/>
<line x1="717.08" y1="540.00" x2="674.15" y2="622.00"/>
<line x1="725.08" y1="540.00" x2="682.15" y2="622.00"/>
<line x1="733.08" y1="540.00" x2="690.15" y2="622.00"/>
<line x1="741.08" y1="540.00" x2="698.15" y2="622.00"/>
<line x1="749.08" y1="540.00" x2="706.15" y2="622.00"/>
<line x1="757.08" y1="540.00" x2="714.15" y2="622.00"/>
<line x1="765.08" y1="540.00" x2="722.15" y2="622.00"/>
<line x1="773.08" y1="540.00" x2="730.15" y2="622.00"/>
</g>
<rect x="697.3" y="565.7" width="20.2" height="31.0" fill="#fff" stroke="#222" stroke-width="0.8"/>
<rect x="688.2" y="546.1" width="29.3" height="70.7" fill="none" stroke="#222" stroke-width="0.8"/>
<rect x="707.00" y="617.30" width="7.20" height="20.20" fill="#000"/>
<rect x="707.00" y="637.50" width="7.20" height="59.50" fill="#fff"/>
<g stroke="#707070" stroke-width="1.00" fill="none">
<path d="M707.00 637.50V697.00M714.20 637.50V697.00"/>
<path d="M710.60 641.30V693.20"/>
<path d="M707.00 641.30H714.20M707.00 693.20H714.20"/>
<path d="M707.00 637.50H714.20M707.00 697.00H714.20"/>
</g>
<rect x="707.00" y="697.00" width="7.20" height="16.20" fill="#000"/>
<rect x="707.00" y="705.80" width="35.90" height="7.20" fill="#000"/>
<rect x="742.90" y="705.80" width="49.70" height="7.20" fill="#fff"/>
<g stroke="#707070" stroke-width="1.00" fill="none">
<path d="M742.90 705.80H792.60M742.90 713.00H792.60"/>
<path d="M746.70 709.40H788.80"/>
<path d="M746.70 705.80V713.00M788.80 705.80V713.00"/>
<path d="M742.90 705.80V713.00M792.60 705.80V713.00"/>
</g>
<rect x="792.60" y="705.80" width="49.30" height="7.20" fill="#fff"/>
<g stroke="#707070" stroke-width="1.00" fill="none">
<path d="M792.60 705.80H841.90M792.60 713.00H841.90"/>
<path d="M796.40 709.40H838.10"/>
<path d="M796.40 705.80V713.00M838.10 705.80V713.00"/>
<path d="M792.60 705.80V713.00M841.90 705.80V713.00"/>
</g>
<rect x="841.90" y="705.80" width="107.10" height="7.20" fill="#000"/>
<text x="749.062" y="602.37" font-size="40.31" textLength="35.696" lengthAdjust="spacingAndGlyphs" fill="#000" stroke="#fff" stroke-width="0.930">G</text>
<text x="783.527" y="602.00" font-size="39.25" textLength="21.104" lengthAdjust="spacingAndGlyphs" fill="#000" stroke="#fff" stroke-width="0.204">R</text>
<text x="805.945" y="602.00" font-size="39.24" textLength="19.375" lengthAdjust="spacingAndGlyphs" fill="#000" stroke="#fff" stroke-width="0.194">E</text>
<text x="825.874" y="602.25" font-size="39.97" textLength="26.553" lengthAdjust="spacingAndGlyphs" fill="#000" stroke="#fff" stroke-width="0.700">A</text>
<text x="852.716" y="601.91" font-size="38.97" textLength="15.780" lengthAdjust="spacingAndGlyphs" fill="#000" stroke="#fff" stroke-width="0.011">T</text>
<text x="879.450" y="602.02" font-size="39.31" textLength="21.631" lengthAdjust="spacingAndGlyphs" fill="#000" stroke="#fff" stroke-width="0.243">R</text>
<text x="901.455" y="602.30" font-size="40.13" textLength="33.111" lengthAdjust="spacingAndGlyphs" fill="#000" stroke="#fff" stroke-width="0.809">O</text>
<text x="933.980" y="602.30" font-size="40.11" textLength="32.861" lengthAdjust="spacingAndGlyphs" fill="#000" stroke="#fff" stroke-width="0.796">O</text>
<text x="964.201" y="602.38" font-size="40.35" textLength="38.997" lengthAdjust="spacingAndGlyphs" fill="#000" stroke="#fff" stroke-width="0.963">M</text>
<text x="781.91" y="1454.80" font-size="17.73" textLength="436.93" lengthAdjust="spacingAndGlyphs" fill="#222">Measurements Are Deemed Reliable But Not Guaranteed.</text>
</svg>
</body></html>
